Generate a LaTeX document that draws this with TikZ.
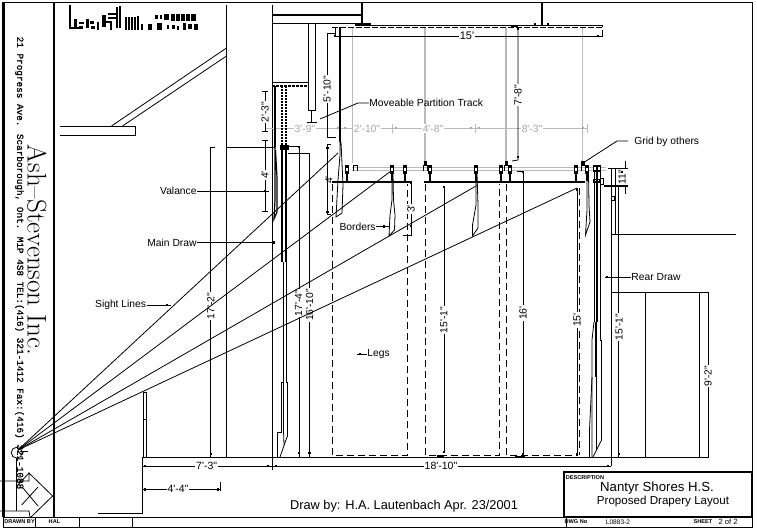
\documentclass[tikz,border=0pt]{standalone}
\usepackage{fontspec}
\newfontfamily\cadfont{Liberation Sans}
\newfontfamily\addrfont{Liberation Mono}[FakeBold=0.8]
\newcommand{\cadsize}[1]{\fontsize{#1}{#1}\selectfont\cadfont}
\tikzset{
  thin line/.style={line width=0.8pt,black},
  heavy/.style={line width=1.6pt,black},
  frame line/.style={line width=2.2pt,black},
  grey line/.style={line width=0.9pt,black!27},
  greywide/.style={line width=1.5pt,black!27},
  legline/.style={line width=0.9pt,black,dash pattern=on 7pt off 4pt},
  label/.style={font=\cadsize{10.3},inner sep=0pt,text=black},
  dimtext/.style={font=\cadsize{10.3},inner sep=1pt,fill=white,text=black},
  greydim/.style={font=\cadsize{10.3},inner sep=1pt,fill=white,text=black!35},
  tiny/.style={font=\cadsize{5.6}\bfseries,inner sep=0pt,text=black},
}
\newcommand{\dotsat}[1]{\foreach \px/\py in {#1}{\fill (\px-1.3,\py-1.3) rectangle (\px+1.3,\py+1.3);}}
\begin{document}
\begin{tikzpicture}[x=1pt,y=-1pt,thin line]
\useasboundingbox (0,0) rectangle (757,529);
\fill[white] (0,0) rectangle (757,529);
% sheet frame
\draw[thin line] (3,2) -- (752,2) -- (752,527) -- (3,527);
\draw[line width=3pt] (3.5,2) -- (3.5,517);
\draw[frame line] (54,2) -- (54,517);
\draw (3,517) -- (752,517);
\draw (3,517) -- (3,527);
\foreach \sx in {35,79,132,566} {\draw (\sx,517) -- (\sx,527);}
\draw[frame line] (564,517) -- (564,472) -- (752,472) -- (752,517) -- cycle;
% firm block
\node[rotate=-90,font=\fontsize{27}{28}\selectfont,inner sep=0pt] (firm) at (37,250) {Ash--Stevenson Inc.};
\node[rotate=-90,font=\fontsize{9.35}{10}\selectfont\addrfont,inner sep=0pt] (addr) at (19.5,263) {21 Progress Ave. Scarborough, Ont. M1P 4S8 TEL:(416) 321-1412 Fax:(416) 321-1088};
% title block
\node[tiny] (descr) at (585,477.5) {DESCRIPTION};
\node[font=\cadsize{13.2},inner sep=0pt] (ttl1) at (657,488) {Nantyr Shores H.S.};
\node[font=\cadsize{11.6},inner sep=0pt] (ttl2) at (663,501) {Proposed Drapery Layout};
\node[font=\cadsize{12.8},inner sep=0pt] (drawnby) at (404,506) {Draw by: H.A. Lautenbach Apr. 23/2001};
\node[tiny] (t1) at (19.5,522) {DRAWN BY};
\node[tiny] (t2) at (54.5,522) {HAL};
\node[tiny] (t3) at (576,522) {DWG No};
\node[tiny,font=\cadsize{6.6}] (t4) at (618,522) {L0883-2};
\node[tiny] (t5) at (703,522) {SHEET};
\node[tiny,font=\cadsize{7.6}] (t6) at (728,522) {2 of 2};
% logo scribble top left
\draw[line width=1.4pt] (70,5) -- (70,28) -- (82,28);
\foreach \bx/\by/\bw/\bh in {74/19/3/9,79/22/5/2,79/26/4/3,86/19/3/9,90/21/4/3,91/26/4/3,97/22/2/8,102/15/4/12,108/13/10/2,108/17/9/2,105/21/5/2,110/21/2/9,116/7/2/21,119/6/1.5/22,125/17/1.5/13,128/17/1.5/13,131/17/1.5/13,134/17/1.5/13,137/16/1.5/14,141/24/2/6,148/24/4/6,157/23/5/7,155/15/3/4,160/15/2/4,164/14/5/6,171/14/4/7,176/14/4/7,181/14/4/7,186/14/4/7,191/14/5/7,167/25/2/4,172/25/3/4,177/26/2/4,183/23/3/7,188/24/4/5,194/24/4/6}
  {\fill (\bx,\by) rectangle ++(\bw,\bh);}
% balcony at left
\draw (60,126) -- (135.5,126) -- (135.5,135) -- (60,135);
\draw (111.5,126) -- (226.5,48);
\draw (122.5,126) -- (226.5,56);
% walls and floor
\draw (226.5,5) -- (226.5,457);
\draw (272,5) -- (272,457);
\draw (142,457) -- (699,457) -- (699,292) -- (611,292);
\draw (645,292) -- (645,457);
\draw (142.3,457) -- (142.3,513) -- (98,513);
\draw (143.5,392) -- (143.5,457);
\draw (146.7,392) -- (146.7,457);
\draw (143.5,392) -- (146.7,392);
\draw (143.5,419) -- (146.7,419);
\draw (611,168) -- (611,466);
\draw (615,168) -- (615,234);
\draw (611,168) -- (615,168);
\draw (618.7,186) -- (618.7,457);
\draw (611,234) -- (736,234);
\draw (611,196) rectangle (614,200);
% roof structure
\draw[heavy] (272,15) -- (362,15);
\draw[heavy] (272,23.7) -- (362,23.7);
\draw[heavy] (362,3) -- (362,24);
\draw (308,24) -- (308,110);
\draw (315.7,24) -- (315.7,110) -- (308,110);
\draw (311.5,110) -- (311.5,122);
\draw (306.5,122) -- (317,122);
\draw[heavy] (272,82.7) -- (308,82.7);
\draw[line width=1.4pt,dash pattern=on 3pt off 1pt] (272,86) -- (308,86);
\draw[line width=1.8pt] (542,3) -- (542,25);
% upper grid
\draw (355,25.2) -- (602,25.2);
\draw[line width=1.2pt,dash pattern=on 6pt off 2pt] (332,27.5) -- (602,27.5);
\draw (602,27.5) -- (602,25.2);
\draw[heavy] (356,24) -- (371,24);
\draw[heavy] (511,26) -- (518,26);
\dotsat{356/24,368/24,535/24,542/24,548/24}
% grey lines and dims
\draw[greywide] (352.7,28) -- (352.7,163);
\draw[greywide] (425,28) -- (425,162);
\draw[greywide] (506,28) -- (506,162);
\draw[grey line] (582.7,28) -- (582.7,162);
\draw[grey line] (352,167) -- (606,167);
\draw[grey line] (352,170) -- (606,170);
\draw[grey line] (265,128.5) -- (587,128.5);
\foreach \tx in {392,475,587} {\draw[grey line] (\tx,124) -- (\tx,133);}
\foreach \tx in {338,345,396,471,479,583} {\fill[black!35] (\tx-1,127.5) rectangle (\tx+1,129.5);}
\node[greydim] (g1) at (305,128.5) {3'-9"};
\node[greydim] (g2) at (367,128.5) {2'-10"};
\node[greydim] (g3) at (433,128.5) {4'-8"};
\node[greydim] (g4) at (532,128.5) {8'-3"};
% partition track
\draw[heavy] (340,27) -- (340,142);
% 5'-10 dim
\draw (335,33) -- (327,33) -- (327,137) -- (336,137);
\node[dimtext,rotate=90] (d510) at (327,89) {5'-10"};
% 15' dim
\draw (335,28) -- (335,36);
\draw (335,36) -- (602,36) -- (602,30);
\node[dimtext,font=\cadsize{11}] (d15) at (467,36) {15'};
\dotsat{335/36,598/36}
% 7'-8 dim
\draw (518,29) -- (518,160) -- (512,161);
\node[dimtext,rotate=90,font=\cadsize{10.5}] (d78) at (518,95) {7'-8"};
\dotsat{518/29,518/157}
% lower grid
\draw[line width=2pt] (332,182) -- (412,182);
\draw[line width=2pt] (424,182) -- (585,182);
\foreach \cx in {347,392,405,430,476,501,510,576,587} {
  \fill (\cx-2,165) rectangle (\cx+2,174);
  \fill[white] (\cx-1,168) rectangle (\cx+1,171);
  \draw[heavy] (\cx,174) -- (\cx,181);
}
\foreach \hx in {355,425,506,583} {
  \draw (\hx-1.5,171) -- (\hx-1.5,165) -- (\hx+2,165) -- (\hx+2,171);
}
\fill (423.5,161.5) rectangle (427,165);
\fill (505,161.5) rectangle (508,165);
\fill (581,161.5) rectangle (585,165);
% rear draw hardware
\foreach \cx in {595,599} {
  \fill (\cx-2,165) rectangle (\cx+2,172);
  \fill[white] (\cx-1,167) rectangle (\cx+1,170);
}
\draw[line width=1.3pt] (594,179.5) rectangle (600,182);
\draw (600,178) -- (603,178) -- (603,184) -- (600,184);
\draw[heavy] (594.3,172) -- (594.3,322);
\draw[line width=1.2pt] (597,172) -- (597,322);
\draw[heavy] (596,322) -- (596,377);
\draw (600,172) -- (600,340) -- (601,340) -- (601,441);
\draw (594,322) -- (592,340) -- (592,457);
\draw (592,377) -- (589.5,430) -- (589.5,457);
\draw (593,457) -- (601,441);
\draw (596,377) -- (596,450);
% main draw
\draw[line width=1.3pt] (275,86) -- (275,147);
\draw[line width=1.8pt,dash pattern=on 2pt off 1pt] (282,86) -- (282,145);
\draw[line width=1.8pt,dash pattern=on 2pt off 1pt] (286,86) -- (286,145);
\fill (280,145) rectangle (288.7,150);
\draw[line width=1.8pt] (282,150) -- (282,262);
\draw[line width=1.8pt] (286,150) -- (286,262);
\draw (283,262) -- (283,382) -- (281,382) -- (281,432) -- (277,432) -- (277,457);
\draw (286,262) -- (286,382) -- (287,382) -- (287,437);
\draw (280,457) -- (287,437);
\draw (283.5,280) -- (283.5,430) -- (284,445);
% valance
\draw[line width=1.2pt] (275,147) -- (275,200) -- (274,219) -- (277,212) -- (277,178) -- (275.5,150);
% hanging dims on left of proscenium
\draw (210.7,457) -- (210.7,147) -- (215,147);
\node[dimtext,rotate=90] (d172) at (210.7,306) {17'-2"};
\dotsat{211/454}
\draw (226.5,147) -- (275,147);
\draw (288,146) -- (299,146) -- (299,457);
\node[dimtext,rotate=90] (d174) at (298.5,303) {17'-4"};
\draw (288,153.5) -- (309.5,153.5) -- (309.5,457);
\node[dimtext,rotate=90] (d1610) at (309.5,305) {16'-10"};
\dotsat{299/147,299/453,309.5/453}
% 2'-3 dim and 4' dim
\draw (265,91) -- (265,131);
\draw (261.5,91) -- (268,91);
\draw (261.5,131) -- (268,131);
\node[dimtext,rotate=90] (d23) at (265,112) {2'-3"};
\draw (265,140) -- (265,211);
\draw (262,140) -- (268,140);
\draw (262,211) -- (268,211);
\node[dimtext,rotate=90] (d4a) at (265,175) {4'};
% 4' dim at stage
\draw (327.3,144) -- (327.3,214);
\draw (327.3,144) -- (331,144);
\draw (327.3,214) -- (331,214);
\node[label,rotate=90] (d4b) at (329,180) {4'};
\dotsat{327.3/148,327.3/212}
% legs
\draw[legline] (332.3,184) -- (332.3,455.5) -- (407.3,455.5) -- (407.3,184);
\draw[legline] (425.7,184) -- (425.7,455.5) -- (499.3,455.5) -- (499.3,184);
\draw[legline] (506.7,184) -- (506.7,455.5) -- (577.3,455.5) -- (577.3,188);
\draw[legline] (579,188) -- (579,455);
% borders
\draw (340,142) -- (340,155) -- (338,180) -- (336,217) -- (342,213) -- (343,185) -- (341,142);
\draw (392,174) -- (392,200) -- (390,215) -- (389,236) -- (394.5,230) -- (395,215) -- (393.5,200) -- (393,174);
\draw (476,174) -- (476,205) -- (472.5,225) -- (472.5,236) -- (478,228) -- (478,205) -- (477,174);
\draw (587,174) -- (587,210) -- (585.5,235) -- (590,222) -- (589,205) -- (588.5,174);
% 3' dim
\draw (411,182) -- (411,235) -- (403,235);
\node[dimtext,rotate=90,font=\cadsize{10.5}] (d3) at (411,209) {3'};
\dotsat{411/183,411/226}
% centre dims
\draw (444,186) -- (444,453);
\node[dimtext,rotate=90] (d151) at (444,320) {15'-1"};
\dotsat{444/187,444/452}
\draw[heavy] (437,456) -- (444,456);
\draw (517,171) -- (523,171) -- (523,454);
\node[dimtext,rotate=90,font=\cadsize{10.5}] (d16) at (523,313) {16'};
\dotsat{523/172,523/454}
\draw[heavy] (515,457) -- (525,457);
\draw (577,190) -- (577,454);
\node[dimtext,rotate=90,font=\cadsize{10.5}] (d15b) at (577,320) {15'};
\dotsat{577/190,577/454}
\node[dimtext,rotate=90] (d151b) at (619,327) {15'-1"};
\dotsat{619/454}
% 11 in dim
\draw (608,168) -- (628,168);
\draw[line width=1.2pt] (604,186) -- (628,186);
\draw (625.7,161) -- (625.7,168);
\draw (625.7,186) -- (625.7,194);
\node[label,rotate=90] (d11) at (622,177) {11"};
\dotsat{622/172}
% 9'-2 dim
\draw (699,292) -- (708,292) -- (708,457) -- (699,457);
\node[dimtext,rotate=90] (d92) at (708,376) {9'-2"};
% horizontal base dims
\draw (142,466) -- (611,466);
\draw (611,457) -- (611,466);
\draw (142,460) -- (142,470);
\draw (272,457) -- (272,470);
\dotsat{145/466,268/466,276/466,608/466}
\node[dimtext,font=\cadsize{10.5}] (d73) at (206.7,466) {7'-3"};
\node[dimtext,font=\cadsize{10.5}] (d1810) at (441,466) {18'-10"};
\draw (142,489.3) -- (220.7,489.3);
\draw (142,482) -- (142,491);
\draw (220.7,482) -- (220.7,491);
\dotsat{145/489.3,218/489.3}
\node[dimtext,font=\cadsize{10.5}] (d44) at (178,489.3) {4'-4"};
% sight lines
\coordinate (eye) at (18,450);
\draw (eye) -- (338,153);
\draw (eye) -- (391,171);
\draw (eye) -- (476,186);
\draw (eye) -- (577,188);
% seat symbol and door
\draw (16.7,452.7) circle[radius=5.5pt];
\draw (16,458) -- (16,511);
\draw (20,451) -- (28,451);
\draw (0,481) -- (29,481) -- (29,473) -- (52.7,496) -- (30,518);
\draw (29,473) -- (17,486);
\draw (0,511) -- (29,511) -- (30,517);
\draw (21.7,505) -- (38,487);
\draw (23,488) -- (38,506);
% labels with leaders
\node[label,anchor=west] (lblTrack) at (369,103) {Moveable Partition Track};
\draw (lblTrack.west) -- (358,103) -- (320,119);
\node[label,anchor=west] (lblGrid) at (634,141.5) {Grid by others};
\draw (628,141) -- (617,141) -- (583,163);
\node[label,anchor=east] (lblVal) at (197,191) {Valance};
\draw (lblVal.east) -- (269,191);
\dotsat{265/191}
\node[label,anchor=east] (lblMain) at (197,242.5) {Main Draw};
\draw (lblMain.east) -- (275,242.5);
\dotsat{274/242.5}
\node[label,anchor=east] (lblSight) at (146.5,305) {Sight Lines};
\draw (lblSight.east) -- (171,305);
\dotsat{167/305}
\node[label,anchor=east] (lblBord) at (376,226.5) {Borders};
\draw (lblBord.east) -- (390,226.5);
\dotsat{384/226.5}
\node[label,anchor=west] (lblLegs) at (367,354) {Legs};
\draw (lblLegs.west) -- (357,354);
\dotsat{360/354}
\node[label,anchor=west] (lblRear) at (631,277) {Rear Draw};
\draw (lblRear.west) -- (605,277);
\dotsat{607/277}
\end{tikzpicture}
\end{document}
